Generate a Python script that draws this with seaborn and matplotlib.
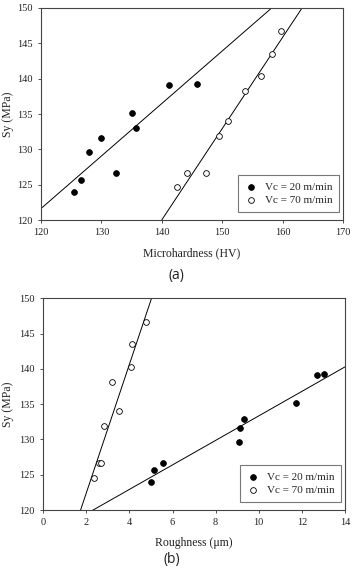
import numpy as np
import pandas as pd
import matplotlib
matplotlib.use('Agg')
import matplotlib.pyplot as plt
import seaborn as sns

# (a) Sy vs microhardness
hv_20 = [125.5, 126.6, 127.9, 129.9, 132.4, 135.0, 135.8, 141.2, 145.9]
sy_20_a = [124.0, 125.6, 129.6, 131.6, 126.6, 135.1, 133.0, 139.1, 139.3]
hv_70 = [142.6, 144.2, 147.3, 149.5, 150.9, 153.7, 156.4, 158.3, 159.7]
sy_70_a = [124.6, 126.6, 126.6, 131.9, 134.0, 138.3, 140.4, 143.5, 146.7]

# (b) Sy vs roughness
ra_20 = [5.01, 5.12, 5.54, 9.07, 9.13, 9.33, 11.73, 12.69, 13.03]
sy_20_b = [124.0, 125.6, 126.6, 129.6, 131.6, 132.9, 135.1, 139.1, 139.3]
ra_70 = [2.34, 2.60, 2.68, 2.80, 3.19, 3.50, 4.07, 4.13, 4.78]
sy_70_b = [124.5, 126.6, 126.6, 131.9, 138.2, 134.0, 140.3, 143.5, 146.6]

labels = ['Vc = 20 m/min', 'Vc = 70 m/min']

sns.set_style('ticks')
plt.rcParams['font.family'] = ['Liberation Serif', 'DejaVu Serif']

fig = plt.figure(figsize=(3.54, 5.71), dpi=100)
ax1 = fig.add_axes([0.1158, 0.6147, 0.853, 0.3713])
ax2 = fig.add_axes([0.1223, 0.1068, 0.852, 0.3708])


def panel(ax, x20, y20, x70, y70, xlim, xticks, xlabel, ylab_x):
    ax.set_xlim(*xlim)
    ax.set_ylim(120, 150)
    for x, y in [(x20, y20), (x70, y70)]:
        sns.regplot(x=np.array(x), y=np.array(y), ax=ax, ci=None, truncate=False,
                    scatter=False, color='black', line_kws={'lw': 0.7})
    sns.scatterplot(x=x20, y=y20, ax=ax, color='black', edgecolor='black',
                    s=17, linewidth=0.6, label=labels[0], zorder=3)
    sns.scatterplot(x=x70, y=y70, ax=ax, color='white', edgecolor='black',
                    s=17, linewidth=0.6, label=labels[1], zorder=3)
    ax.set_xlim(*xlim)
    ax.set_ylim(120, 150)
    ax.set_xticks(xticks)
    ax.set_yticks(range(120, 151, 5))
    ax.tick_params(labelsize=7.5, length=2.5, width=0.6, color='#333333',
                   labelcolor='#222222', pad=3.5)
    for s in ax.spines.values():
        s.set_visible(True)
        s.set_color('#444444')
        s.set_linewidth(0.8)
    ax.set_xlabel(xlabel, fontsize=8.5, color='#222222', labelpad=7)
    ax.set_ylabel('Sy (MPa)', fontsize=8.5, color='#222222')
    ax.yaxis.set_label_coords(ylab_x, 0.5)
    leg = ax.legend(loc='lower right', bbox_to_anchor=(0.987, 0.038),
                    borderaxespad=0, fontsize=8, fancybox=False,
                    frameon=True, handletextpad=0.6, borderpad=0.6,
                    labelspacing=0.35, handlelength=1.2)
    leg.get_frame().set_edgecolor('#555555')
    leg.get_frame().set_linewidth(0.8)


panel(ax1, hv_20, sy_20_a, hv_70, sy_70_a, (120, 170), range(120, 171, 10),
      'Microhardness (HV)', -0.089)
panel(ax2, ra_20, sy_20_b, ra_70, sy_70_b, (0, 14), range(0, 15, 2),
      'Roughness (\u03bcm)', -0.097)

fig.text(176 / 354, 1 - 276 / 571, '(a)', ha='center', va='center',
         fontsize=10, family=['Open Sans', 'DejaVu Sans'], color='#222222')
fig.text(172 / 354, 1 - 560 / 571, '(b)', ha='center', va='center',
         fontsize=10, family=['Open Sans', 'DejaVu Sans'], color='#222222')

fig.savefig('out.png', dpi=100)
